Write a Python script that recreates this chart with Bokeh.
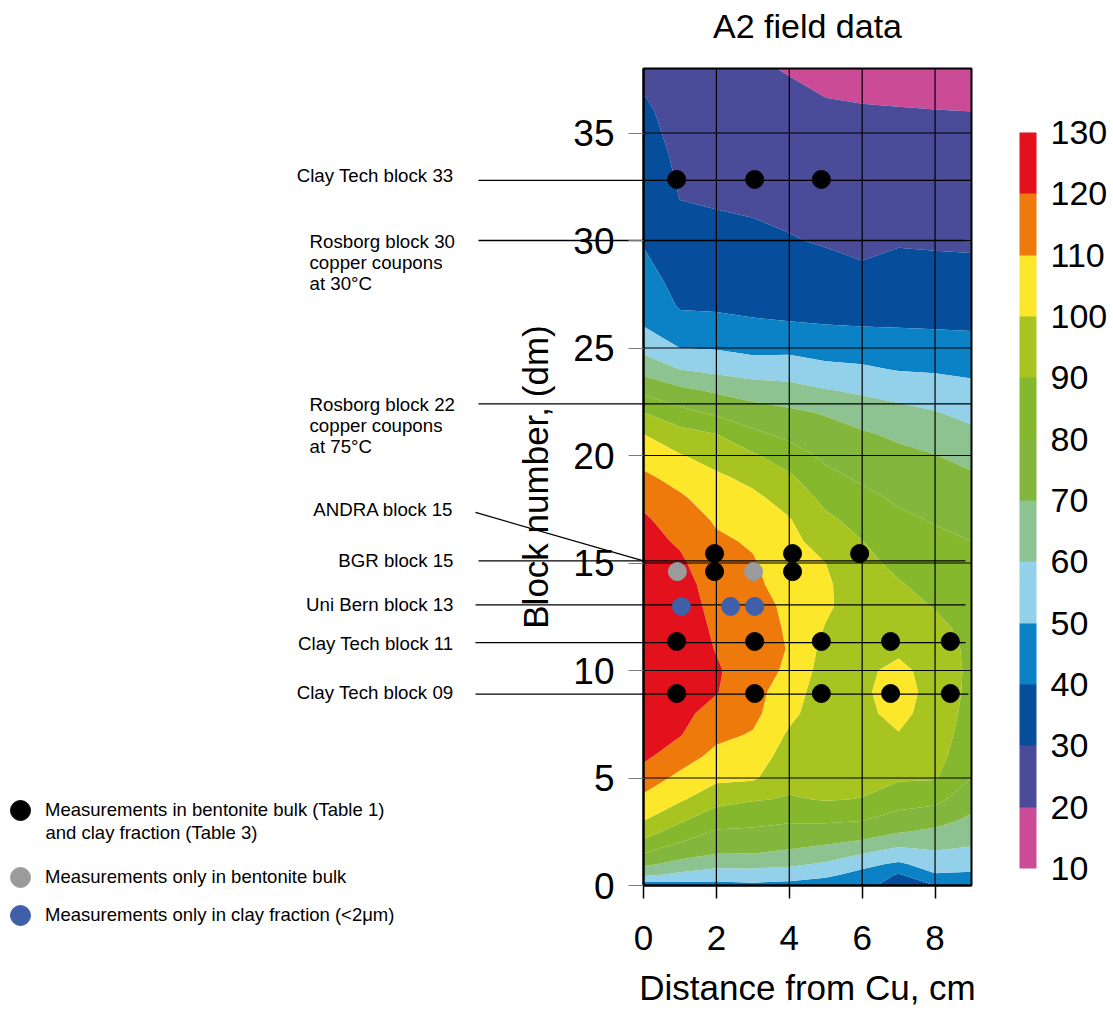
import numpy as np
from bokeh.plotting import figure
from bokeh.models import (Range1d, FixedTicker, ColorBar, LinearColorMapper,
                          Legend, LegendItem)
from bokeh.core.properties import value
from bokeh.embed import file_html
from bokeh.resources import INLINE

# ---------------- data ----------------
distance_cm = [0, 1, 2, 3, 4, 5, 6, 7, 8, 9]
block_dm = [0, 0.5, 1, 1.5, 2, 2.5, 3, 4, 5, 6, 7, 8, 9, 10, 11, 12, 13, 14, 15, 16,
            17, 18, 19, 20, 21, 22, 23, 24, 25, 26, 27, 28, 30, 32, 34, 36, 38]
# one row per block_dm value, one column per distance_cm value
field_values = [
    [44, 46, 47, 48, 47, 46, 47, 30, 40, 42],
    [62, 58, 55, 55.5, 54.4, 51.6, 47.5, 39, 49.3, 48.5],
    [72, 67, 63.2, 63.2, 61.9, 58.8, 52.4, 48.6, 54.2, 53.7],
    [80, 74, 70.3, 70.2, 68.3, 65.4, 60.5, 55.7, 58.8, 57.7],
    [88, 80, 74.7, 74.3, 72.9, 71.3, 68.5, 63.2, 63.5, 61.4],
    [94, 85.6, 79.1, 78.4, 76.9, 76.2, 74.5, 70.7, 68.1, 64.6],
    [100, 91.1, 83.6, 82.4, 80.8, 81, 80, 75.4, 73, 68],
    [108, 101.3, 93.3, 90.7, 89.2, 90.5, 89.7, 84.7, 82.7, 74],
    [115, 107.7, 102.2, 101.4, 92.6, 92, 92.5, 91, 90.8, 80],
    [122, 114.2, 107.4, 105.3, 95.6, 93, 94.5, 95, 93.5, 83],
    [124, 120.5, 112.2, 109.2, 98.5, 93.5, 96.5, 99.5, 95, 85],
    [126, 122.5, 116.5, 112.5, 102.5, 94, 98, 102.5, 96, 86.5],
    [127, 124, 120.5, 113.3, 104.8, 94.5, 98.5, 104, 96.5, 87.5],
    [128, 125, 121, 115.2, 108, 95.5, 98, 102.5, 96, 88],
    [128, 125, 119.6, 116, 109.3, 97, 97, 98, 94.5, 88],
    [128, 125, 118.5, 115.5, 108.5, 99.5, 96, 95, 92, 87.5],
    [127, 124, 117.5, 114.5, 107.5, 101.5, 95, 93, 89.5, 86],
    [126, 123, 116.5, 112, 106, 101.5, 94, 90.7, 87, 84.5],
    [125, 121.5, 114, 110.8, 104.5, 100, 92.5, 87.9, 84.5, 82.5],
    [123, 118.9, 111.5, 109, 102.6, 96, 90.2, 84.8, 82, 80],
    [121.5, 115.2, 108.9, 105.5, 100.6, 92, 86.7, 81.8, 79.4, 77.1],
    [117.6, 111.5, 105.2, 102.1, 96.5, 87.5, 82.5, 78.7, 76.4, 74.1],
    [111.8, 106.5, 101.5, 97.5, 91.5, 82.5, 78.5, 75.5, 73.3, 71.2],
    [105.9, 100.6, 96.2, 91.3, 84.6, 77.9, 74.8, 72.3, 70.3, 67],
    [100, 93.6, 90, 82, 77.6, 73.75, 71.1, 68.3, 65.5, 62],
    [90, 82.9, 78.2, 74.3, 71.8, 69.2, 65.3, 62.8, 60.5, 57.3],
    [77.8, 72.7, 68.8, 65.6, 63.6, 60.8, 58.6, 56.4, 54.7, 52.7],
    [66.7, 60, 57.5, 55.2, 55.2, 52.5, 51.4, 49.5, 49, 48.1],
    [57.1, 50, 49.3, 47.3, 47.6, 46, 45.6, 44.5, 44, 43.3],
    [50, 43.3, 42.7, 41.2, 40.7, 40.3, 40, 39.7, 39.4, 39.1],
    [47.1, 39, 38.7, 38.3, 37.8, 37.2, 36, 36.9, 36.5, 36.2],
    [44.1, 37.1, 36.6, 36.1, 35.4, 34.2, 32, 34, 33.5, 33.2],
    [39.2, 33.3, 32.3, 31.7, 30.5, 29.2, 28.2, 29.2, 28.9, 28.7],
    [36.7, 29.8, 29.1, 28.5, 27.6, 26.6, 25.8, 26.3, 26, 25.8],
    [34.1, 28.2, 27.1, 26, 24.9, 24, 23.4, 23.5, 23.1, 22.9],
    [31.5, 26.6, 25, 23.5, 22.3, 21.4, 21, 20.7, 20.3, 20],
    [28, 25, 23, 21, 19.5, 17, 15.5, 14.5, 13.5, 13],
]
levels = [10, 20, 30, 40, 50, 60, 70, 80, 90, 100, 110, 120, 130]
level_colors = ["#cc4b97", "#4a4b99", "#064d9b", "#0a82c5", "#93d0ea", "#8cc391",
                "#82b63c", "#85b82c", "#a7c421", "#fce72b", "#ee7a0c", "#e2111b"]

x_ticks = [0, 2, 4, 6, 8]
y_ticks = [0, 5, 10, 15, 20, 25, 30, 35]
x_extent = (0, 9)
y_extent = (0, 38)

black_x = [0.91, 3.05, 4.88, 1.95, 4.09, 5.93, 1.95, 4.09,
           0.91, 3.05, 4.88, 6.78, 8.42, 0.91, 3.05, 4.88, 6.78, 8.42]
black_y = [32.84, 32.84, 32.84, 15.44, 15.44, 15.44, 14.6, 14.6,
           11.35, 11.35, 11.35, 11.35, 11.35, 8.93, 8.93, 8.93, 8.93, 8.93]
gray_x = [0.93, 3.02]
gray_y = [14.6, 14.6]
blue_x = [1.04, 2.39, 3.05]
blue_y = [12.98, 12.98, 12.98]

ann_labels = ["Clay Tech block 33", "Rosborg block 30\ncopper coupons\nat 30°C",
              "Rosborg block 22\ncopper coupons\nat 75°C", "ANDRA block 15",
              "BGR block 15", "Uni Bern block 13", "Clay Tech block 11", "Clay Tech block 09"]
ann_block = [32.8, 30.0, 22.4, 15.1, 15.1, 13.05, 11.3, 8.9]
ann_block_start = [32.8, 30.0, 22.4, 17.35, 15.1, 13.05, 11.3, 8.9]

legend_labels = ["Measurements in bentonite bulk (Table 1)",
                 "Measurements only in bentonite bulk",
                 "Measurements only in clay fraction (<2μm)"]
legend_extra = "and clay fraction (Table 3)"

title_text = "A2 field data"

# ---------------- layout helpers (page pixels -> data units) ----------------
W, H = 1108, 1008
FL, FR, FT, FB = 643, 971, 68, 885
XS = (FR - FL) / (x_extent[1] - x_extent[0])
YS = (FB - FT) / (y_extent[1] - y_extent[0])


def dx(px):
    return (px - FL) / XS


def dy(py):
    return (FB - py) / YS


FONT = "Liberation Sans"

p = figure(width=W, height=H, x_range=Range1d(dx(0), dx(W)), y_range=Range1d(dy(H), dy(0)),
           output_backend="svg", toolbar_location=None, min_border=0,
           background_fill_color="white", border_fill_color="white",
           outline_line_color=None)

# contour field
p.contour(x=distance_cm, y=block_dm, z=np.array(field_values, dtype=float), levels=levels,
          fill_color=level_colors, line_color=None)

# axes fixed on the data box
p.xaxis.fixed_location = 0
p.yaxis.fixed_location = 0
p.xaxis.bounds = x_extent
p.yaxis.bounds = y_extent
p.xaxis.ticker = FixedTicker(ticks=x_ticks)
p.yaxis.ticker = FixedTicker(ticks=y_ticks)
p.axis.major_label_text_font = FONT
p.axis.major_label_text_color = "black"
p.axis.minor_tick_line_color = None
p.axis.axis_line_color = "black"
p.axis.axis_line_width = 2
p.axis.axis_label_text_font = FONT
p.axis.axis_label_text_font_size = "35px"
p.axis.axis_label_text_font_style = "normal"
p.axis.axis_label_text_color = "black"
p.xaxis.major_label_text_font_size = "35px"
p.xaxis.major_tick_in = 0
p.xaxis.major_tick_out = 13
p.xaxis.major_tick_line_color = "black"
p.xaxis.major_tick_line_width = 1.5
p.xaxis.major_label_standoff = 27
p.xaxis.axis_label = "Distance from Cu, cm"
p.xaxis.axis_label_standoff = 15
p.yaxis.major_label_text_font_size = "37px"
p.yaxis.major_tick_in = 0
p.yaxis.major_tick_out = 15
p.yaxis.major_tick_line_color = "#7a7a7a"
p.yaxis.major_tick_line_width = 1
p.yaxis.major_label_standoff = 14
p.yaxis.axis_label = "Block number, (dm)"
p.yaxis.axis_label_standoff = 15
p.grid.visible = False

# grid lines inside the data box, at the tick values
gx = [t for t in x_ticks if t > x_extent[0]]
gy = [t for t in y_ticks if t > y_extent[0]]
p.segment(x0=gx, y0=[y_extent[0]] * len(gx), x1=gx, y1=[y_extent[1]] * len(gx),
          line_color="black", line_width=1.2)
p.segment(x0=[x_extent[0]] * len(gy), y0=gy, x1=[x_extent[1]] * len(gy), y1=gy,
          line_color="black", line_width=1.2)
p.quad(left=[x_extent[0]], right=[x_extent[1]], bottom=[y_extent[0]], top=[y_extent[1]],
       fill_color=None, line_color="black", line_width=2)

# annotation lines
x_start = [dx(478), dx(478), dx(478), dx(475), dx(478), dx(475), dx(475), dx(475)]
x_end = [9.0, dx(965), 9.0, 0.0, dx(965), dx(965), dx(965), dx(968)]
p.segment(x0=x_start, y0=ann_block_start, x1=x_end, y1=ann_block,
          line_color="black", line_width=1.3)

# annotation texts
right_idx = [0, 3, 4, 5, 6, 7]
right_ty = [dy(175), dy(509), dy(560), dy(604), dy(643), dy(692)]
p.text(x=[dx(453)] * len(right_idx), y=right_ty, text=[ann_labels[i] for i in right_idx],
       text_align="right", text_baseline="middle", text_font=value(FONT),
       text_font_size=value("18.7px"), text_color="black")
p.text(x=[dx(309)] * 2, y=[dy(230), dy(393)], text=[ann_labels[1], ann_labels[2]],
       text_align="left", text_baseline="top", text_font=value(FONT),
       text_font_size=value("18.7px"), text_color="black", text_line_height=1.0)

# title
p.text(x=[(x_extent[0] + x_extent[1]) / 2], y=[dy(25)], text=[title_text],
       text_align="center", text_baseline="alphabetic", text_font=value(FONT),
       text_font_size=value("34px"), text_color="black")

# measurement points (drawn above the lines)
r_black = p.scatter(black_x, black_y, size=18, color="black")
r_gray = p.scatter(gray_x, gray_y, size=18, color="#9b9b9b")
r_blue = p.scatter(blue_x, blue_y, size=18, color="#3f5fa9")

# color bar
mapper = LinearColorMapper(palette=level_colors, low=levels[0], high=levels[-1])
cbar = ColorBar(color_mapper=mapper, ticker=FixedTicker(ticks=levels), location=(1019, H - 868),
                width=17, height=736, padding=0, margin=0, label_standoff=14,
                major_label_text_font=FONT, major_label_text_font_size="34px",
                major_label_text_color="black", major_tick_line_color=None,
                bar_line_color=None, border_line_color=None, background_fill_color=None)
p.add_layout(cbar)

# legend (three single-item legends in the lower-left corner)
GW, GH = 50, 56
for lab, rend, cy in zip(legend_labels, [r_black, r_gray, r_blue], [810, 877, 915]):
    lg = Legend(items=[LegendItem(label=lab, renderers=[rend])],
                location=(20 - GW / 2, H - (cy + GH / 2)), padding=0, margin=0,
                glyph_width=GW, glyph_height=GH, label_standoff=0, spacing=0,
                label_text_font=FONT, label_text_font_size="18.5px", label_text_color="black",
                border_line_color=None, background_fill_alpha=0)
    p.add_layout(lg)

p.text(x=[dx(45)], y=[dy(832)], text=[legend_extra], text_align="left",
       text_baseline="middle", text_font=value(FONT), text_font_size=value("18.5px"),
       text_color="black")

open("out.html", "w").write(file_html(p, INLINE))
